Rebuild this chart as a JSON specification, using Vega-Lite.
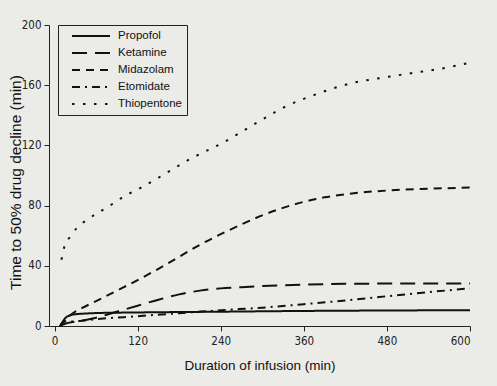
{
  "$schema": "https://vega.github.io/schema/vega-lite/v6.json",
  "autosize": "none",
  "width": 421,
  "height": 301,
  "padding": {"left": 49, "top": 25, "right": 27, "bottom": 60},
  "background": "#ebebe7",
  "config": {
    "view": {"stroke": null},
    "font": "Liberation Sans",
    "axis": {"domainColor": "#222", "tickColor": "#222", "labelColor": "#222", "titleColor": "#111", "grid": false, "labelFont": "DejaVu Sans Condensed, Liberation Sans Narrow, Liberation Sans", "labelFontSize": 11.5, "titleFontSize": 13.5, "titleFontWeight": "normal", "tickSize": 5, "domainWidth": 1}
  },
  "data": {"values": [
    {"drug": "Propofol", "t": 8, "v": 0},
    {"drug": "Propofol", "t": 12, "v": 3},
    {"drug": "Propofol", "t": 16, "v": 5.5},
    {"drug": "Propofol", "t": 22, "v": 7},
    {"drug": "Propofol", "t": 30, "v": 7.8},
    {"drug": "Propofol", "t": 45, "v": 8.3},
    {"drug": "Propofol", "t": 60, "v": 8.6},
    {"drug": "Propofol", "t": 120, "v": 9},
    {"drug": "Propofol", "t": 240, "v": 9.5},
    {"drug": "Propofol", "t": 360, "v": 10},
    {"drug": "Propofol", "t": 480, "v": 10.3},
    {"drug": "Propofol", "t": 600, "v": 10.5},
    {"drug": "Ketamine", "t": 8, "v": 0},
    {"drug": "Ketamine", "t": 15, "v": 1.5},
    {"drug": "Ketamine", "t": 30, "v": 3},
    {"drug": "Ketamine", "t": 45, "v": 4},
    {"drug": "Ketamine", "t": 60, "v": 5.5},
    {"drug": "Ketamine", "t": 90, "v": 9.5},
    {"drug": "Ketamine", "t": 120, "v": 13.5},
    {"drug": "Ketamine", "t": 150, "v": 17.5},
    {"drug": "Ketamine", "t": 180, "v": 21},
    {"drug": "Ketamine", "t": 210, "v": 23.5},
    {"drug": "Ketamine", "t": 240, "v": 25},
    {"drug": "Ketamine", "t": 270, "v": 25.8},
    {"drug": "Ketamine", "t": 300, "v": 26.5},
    {"drug": "Ketamine", "t": 360, "v": 27.5},
    {"drug": "Ketamine", "t": 420, "v": 28},
    {"drug": "Ketamine", "t": 480, "v": 28.2},
    {"drug": "Ketamine", "t": 600, "v": 28.3},
    {"drug": "Midazolam", "t": 8, "v": 0},
    {"drug": "Midazolam", "t": 15, "v": 4},
    {"drug": "Midazolam", "t": 25, "v": 8},
    {"drug": "Midazolam", "t": 40, "v": 12},
    {"drug": "Midazolam", "t": 60, "v": 16.5},
    {"drug": "Midazolam", "t": 90, "v": 23.5},
    {"drug": "Midazolam", "t": 120, "v": 30.5},
    {"drug": "Midazolam", "t": 150, "v": 38},
    {"drug": "Midazolam", "t": 180, "v": 46},
    {"drug": "Midazolam", "t": 210, "v": 54},
    {"drug": "Midazolam", "t": 240, "v": 61},
    {"drug": "Midazolam", "t": 270, "v": 67.5},
    {"drug": "Midazolam", "t": 300, "v": 73.5},
    {"drug": "Midazolam", "t": 330, "v": 78.5},
    {"drug": "Midazolam", "t": 360, "v": 82.5},
    {"drug": "Midazolam", "t": 390, "v": 85.5},
    {"drug": "Midazolam", "t": 420, "v": 87.5},
    {"drug": "Midazolam", "t": 450, "v": 89},
    {"drug": "Midazolam", "t": 480, "v": 90},
    {"drug": "Midazolam", "t": 540, "v": 91.2},
    {"drug": "Midazolam", "t": 600, "v": 92},
    {"drug": "Etomidate", "t": 8, "v": 0},
    {"drug": "Etomidate", "t": 15, "v": 3},
    {"drug": "Etomidate", "t": 25, "v": 3},
    {"drug": "Etomidate", "t": 40, "v": 3.5},
    {"drug": "Etomidate", "t": 60, "v": 4.5},
    {"drug": "Etomidate", "t": 120, "v": 6.5},
    {"drug": "Etomidate", "t": 180, "v": 8.5},
    {"drug": "Etomidate", "t": 240, "v": 10.5},
    {"drug": "Etomidate", "t": 300, "v": 12.2},
    {"drug": "Etomidate", "t": 360, "v": 14.5},
    {"drug": "Etomidate", "t": 420, "v": 17},
    {"drug": "Etomidate", "t": 480, "v": 19.8},
    {"drug": "Etomidate", "t": 540, "v": 22.5},
    {"drug": "Etomidate", "t": 600, "v": 25},
    {"drug": "Thiopentone", "t": 10, "v": 44},
    {"drug": "Thiopentone", "t": 15, "v": 54},
    {"drug": "Thiopentone", "t": 22, "v": 59},
    {"drug": "Thiopentone", "t": 32, "v": 65},
    {"drug": "Thiopentone", "t": 45, "v": 70},
    {"drug": "Thiopentone", "t": 62, "v": 75},
    {"drug": "Thiopentone", "t": 80, "v": 80},
    {"drug": "Thiopentone", "t": 100, "v": 86},
    {"drug": "Thiopentone", "t": 125, "v": 92},
    {"drug": "Thiopentone", "t": 148, "v": 98},
    {"drug": "Thiopentone", "t": 170, "v": 104},
    {"drug": "Thiopentone", "t": 196, "v": 111},
    {"drug": "Thiopentone", "t": 220, "v": 116.5},
    {"drug": "Thiopentone", "t": 244, "v": 122},
    {"drug": "Thiopentone", "t": 270, "v": 129},
    {"drug": "Thiopentone", "t": 292, "v": 135},
    {"drug": "Thiopentone", "t": 330, "v": 145},
    {"drug": "Thiopentone", "t": 378, "v": 154},
    {"drug": "Thiopentone", "t": 426, "v": 161},
    {"drug": "Thiopentone", "t": 474, "v": 165},
    {"drug": "Thiopentone", "t": 523, "v": 168.5},
    {"drug": "Thiopentone", "t": 570, "v": 172},
    {"drug": "Thiopentone", "t": 600, "v": 175}
  ]},
  "mark": {"type": "line", "color": "#111", "strokeWidth": 2, "interpolate": "monotone"},
  "encoding": {
    "x": {"field": "t", "type": "quantitative", "scale": {"domain": [-8, 600], "nice": false, "zero": false}, "axis": {"values": [0, 120, 240, 360, 480, 600], "title": "Duration of infusion (min)", "titlePadding": 12, "labelPadding": 4}},
    "y": {"field": "v", "type": "quantitative", "scale": {"domain": [0, 200], "nice": false}, "axis": {"values": [0, 40, 80, 120, 160, 200], "title": "Time to 50% drug decline (min)", "titleFontSize": 15.5, "titleX": -26, "titleY": 157, "titleBaseline": "bottom", "labelPadding": 3}},
    "strokeDash": {"field": "drug", "type": "nominal",
      "scale": {"domain": ["Propofol", "Ketamine", "Midazolam", "Etomidate", "Thiopentone"],
                "range": [[1, 0], [15, 8], [8, 6], [8, 5, 2, 5], [2.5, 8.5]]},
      "legend": {"title": null, "orient": "none", "legendX": 9, "legendY": 0, "symbolType": "M-1,0H6.6", "symbolSize": 100, "symbolOffset": 8, "symbolStrokeWidth": 2, "symbolStrokeColor": "#111", "labelFontSize": 11.5, "labelColor": "#111", "labelOffset": 35, "strokeColor": "#222", "fillColor": "#ebebe7", "padding": 5, "rowPadding": 5}}
  }
}
